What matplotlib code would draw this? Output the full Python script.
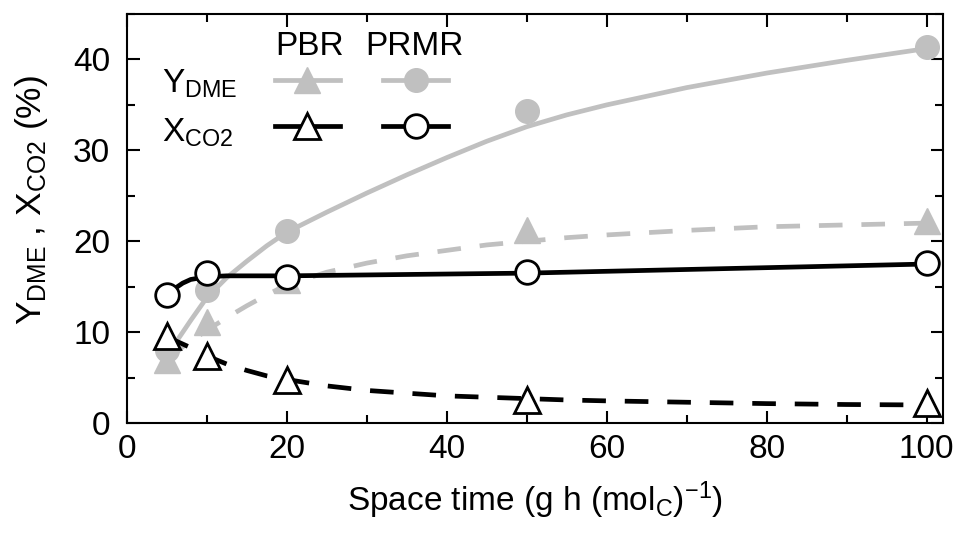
import numpy as np
import matplotlib.pyplot as plt
from matplotlib.lines import Line2D
from matplotlib.ticker import MultipleLocator

FONT = 'Liberation Sans'
plt.rcParams['font.family'] = [FONT, 'DejaVu Sans']
plt.rcParams['mathtext.fontset'] = 'custom'
plt.rcParams['mathtext.rm'] = FONT
plt.rcParams['mathtext.it'] = FONT

GRAY = '#c0c0c0'

# measured points
space_time = [5, 10, 20, 50, 100]
y_dme_pbr = [6.9, 11.1, 15.7, 21.2, 22.2]
y_dme_prmr = [8.0, 14.6, 21.1, 34.3, 41.4]
x_co2_pbr = [9.6, 7.4, 4.7, 2.6, 2.2]
x_co2_prmr = [14.1, 16.5, 16.1, 16.6, 17.6]

# fitted curves
fit_x = [5, 6, 7, 8, 10, 12.5, 15, 17.5, 20, 25, 30, 35, 40, 45, 50, 55, 60, 70, 80, 90, 100]
fit_y_dme_pbr = [6.8, 7.6, 8.4, 9.0, 10.2, 11.6, 12.9, 14.1, 15.2, 16.6, 17.6, 18.4, 19.0, 19.6, 20.0,
                 20.4, 20.7, 21.2, 21.6, 21.8, 22.0]
fit_y_dme_prmr = [7.3, 8.7, 10.0, 11.3, 13.8, 16.0, 17.8, 19.5, 21.0, 23.2, 25.3, 27.3, 29.2, 31.0, 32.6,
                  33.9, 35.0, 36.9, 38.5, 39.9, 41.2]
fit_x_co2_pbr = [9.6, 9.1, 8.7, 8.3, 7.4, 6.5, 5.8, 5.2, 4.8, 4.1, 3.6, 3.3, 3.0, 2.85, 2.7,
                 2.55, 2.45, 2.3, 2.15, 2.05, 2.0]
fit_x_co2_prmr = [14.0, 14.8, 15.4, 15.8, 16.1, 16.2, 16.2, 16.2, 16.2, 16.25, 16.3, 16.35, 16.4, 16.45, 16.5,
                  16.6, 16.7, 16.9, 17.1, 17.3, 17.5]

fig = plt.figure(figsize=(9.6, 5.37), dpi=100)
ax = fig.add_axes([0.132, 0.212, 0.85, 0.762])

dash = (0, (5, 4))
lw = 3.4
ax.plot(fit_x, fit_y_dme_prmr, color=GRAY, lw=lw, zorder=2)
ax.plot(fit_x, fit_y_dme_pbr, color=GRAY, lw=lw, ls=dash, zorder=2)
ax.plot(fit_x, fit_x_co2_prmr, color='black', lw=lw, zorder=3)
ax.plot(fit_x, fit_x_co2_pbr, color='black', lw=lw, ls=dash, zorder=3)

ax.plot(space_time, y_dme_pbr, ls='none', marker='^', ms=19, color=GRAY, zorder=4)
ax.plot(space_time, y_dme_prmr, ls='none', marker='o', ms=17, color=GRAY, zorder=4)
ax.plot(space_time, x_co2_pbr, ls='none', marker='^', ms=19, mfc='white', mec='black', mew=2, zorder=5)
ax.plot(space_time, x_co2_prmr, ls='none', marker='o', ms=17, mfc='white', mec='black', mew=2, zorder=5)

ax.set_xlim(0, 102)
ax.set_ylim(0, 45)
ax.xaxis.set_major_locator(MultipleLocator(20))
ax.xaxis.set_minor_locator(MultipleLocator(10))
ax.yaxis.set_major_locator(MultipleLocator(10))
ax.yaxis.set_minor_locator(MultipleLocator(5))
ax.tick_params(which='both', direction='in', top=True, right=True, width=1.5, labelsize=24)
ax.tick_params(which='major', length=9)
ax.tick_params(which='minor', length=6)
ax.tick_params(axis='x', pad=8)
ax.tick_params(axis='y', pad=12)
for s in ax.spines.values():
    s.set_linewidth(1.5)

ax.set_xlabel(r'Space time (g h (mol$_\mathregular{C}$)$^\mathregular{-1}$)', fontsize=24, labelpad=10)
ax.set_ylabel(r'Y$_\mathregular{DME}$ , X$_\mathregular{CO2}$ (%)', fontsize=25.5)
ax.yaxis.set_label_coords(-0.094, 0.545)

# legend
handles = [
    Line2D([], [], color=GRAY, lw=lw, marker='^', ms=19),
    Line2D([], [], color='black', lw=lw, marker='^', ms=19, mfc='white', mew=2),
    Line2D([], [], color=GRAY, lw=lw, marker='o', ms=17),
    Line2D([], [], color='black', lw=lw, marker='o', ms=17, mfc='white', mew=2),
]
ax.legend(handles, ['', '', '', ''], ncol=2, frameon=False, loc='upper left',
          bbox_to_anchor=(0.161, 0.91), fontsize=24, handlelength=1.95,
          handletextpad=0, columnspacing=1.3, labelspacing=0.47, borderpad=0)
ax.text(0.224, 0.958, 'PBR', transform=ax.transAxes, fontsize=24, ha='center', va='top')
ax.text(0.353, 0.958, 'PRMR', transform=ax.transAxes, fontsize=24, ha='center', va='top')
ax.text(0.043, 0.807, r'Y$_\mathregular{DME}$', transform=ax.transAxes, fontsize=24, va='baseline')
ax.text(0.043, 0.687, r'X$_\mathregular{CO2}$', transform=ax.transAxes, fontsize=24, va='baseline')

fig.savefig('out.png', dpi=100)
